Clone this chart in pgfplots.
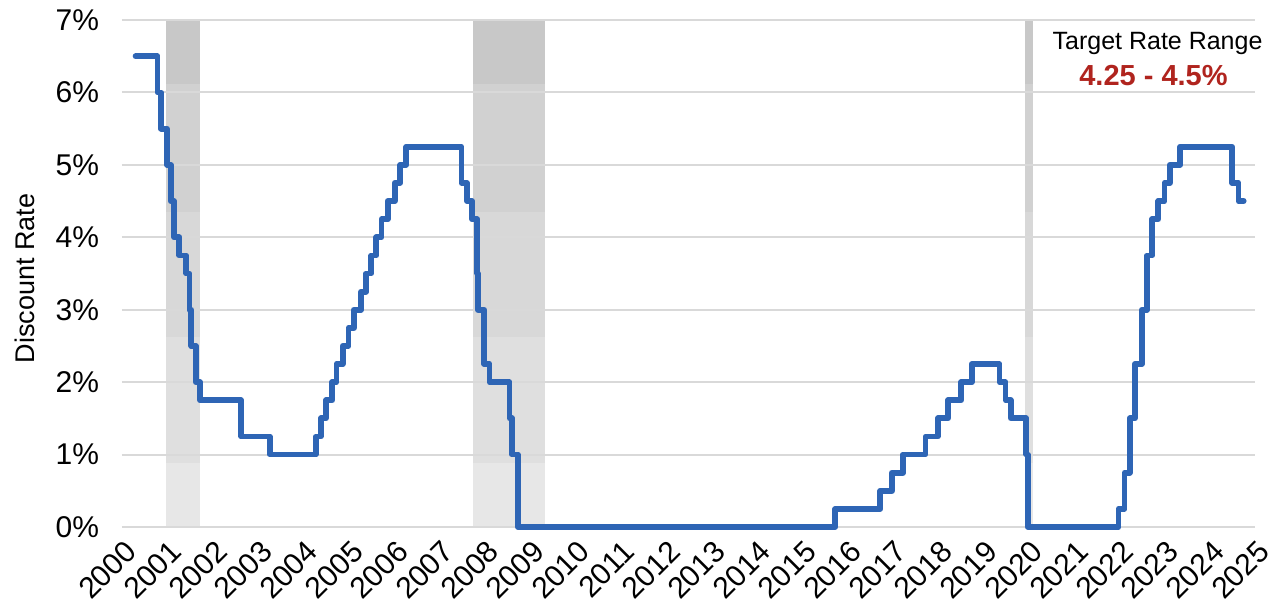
\documentclass[border=0pt]{standalone}
\usepackage{fontspec}
\setmainfont{Liberation Sans}
\usepackage{pgfplots}
\pgfplotsset{compat=1.18}
\definecolor{lineblue}{RGB}{46,101,181}
\definecolor{gridgray}{RGB}{217,217,217}
\definecolor{recA}{RGB}{200,200,200}
\definecolor{recB}{RGB}{209,209,209}
\definecolor{recC}{RGB}{216,216,216}
\definecolor{recD}{RGB}{223,223,223}
\definecolor{recE}{RGB}{231,231,231}
\definecolor{annred}{RGB}{176,36,30}

% recession band: start, end
\newcommand{\recess}[2]{%
  \addplot[on layer=axis background, draw=none, fill=recE] coordinates {(#1,0) (#1,7) (#2,7) (#2,0)} -- cycle;
  \addplot[on layer=axis background, draw=none, fill=recD] coordinates {(#1,0.88) (#1,7) (#2,7) (#2,0.88)} -- cycle;
  \addplot[on layer=axis background, draw=none, fill=recC] coordinates {(#1,2.63) (#1,7) (#2,7) (#2,2.63)} -- cycle;
  \addplot[on layer=axis background, draw=none, fill=recB] coordinates {(#1,4.35) (#1,7) (#2,7) (#2,4.35)} -- cycle;
  \addplot[on layer=axis background, draw=none, fill=recA] coordinates {(#1,6.12) (#1,7) (#2,7) (#2,6.12)} -- cycle;
}

\begin{document}
\begin{tikzpicture}
\begin{axis}[
  at={(0,0)}, anchor=south west,
  scale only axis, width=566.5pt, height=253.5pt,
  xmin=2000.22, xmax=2025.22, ymin=0, ymax=7,
  clip=false, set layers,
  axis line style={draw=none}, major tick length=0pt,
  ymajorgrids, grid style={gridgray, line width=1pt},
  ytick={0,1,2,3,4,5,6,7},
  yticklabels={0\%,1\%,2\%,3\%,4\%,5\%,6\%,7\%},
  yticklabel style={font=\fontsize{15}{18}\selectfont, xshift=-8pt},
  xtick={2000.22,2001.22,2002.22,2003.22,2004.22,2005.22,2006.22,2007.22,2008.22,2009.22,2010.22,2011.22,2012.22,2013.22,2014.22,2015.22,2016.22,2017.22,2018.22,2019.22,2020.22,2021.22,2022.22,2023.22,2024.22,2025.22},
  xticklabels={2000,2001,2002,2003,2004,2005,2006,2007,2008,2009,2010,2011,2012,2013,2014,2015,2016,2017,2018,2019,2020,2021,2022,2023,2024,2025},
  xticklabel style={font=\fontsize{15}{18}\selectfont, rotate=45, anchor=east, inner sep=0.5pt, xshift=-3pt, yshift=-10pt},
  ylabel={Discount Rate},
  ylabel style={at={(axis description cs:-0.0856,0.49)}, anchor=center, font=\fontsize{13.5}{16}\selectfont},
]
\recess{2001.20}{2001.95}
\recess{2007.97}{2009.56}
\recess{2020.15}{2020.33}

\addplot[const plot, lineblue, line width=2.9pt, line cap=round, line join=round] coordinates {
(2000.52,6.5) (2001.005,6.0) (2001.082,5.5) (2001.214,5.0) (2001.293,4.5) (2001.367,4.0)
(2001.485,3.75) (2001.636,3.5) (2001.710,3.0) (2001.751,2.5) (2001.847,2.0) (2001.942,1.75)
(2002.847,1.25) (2003.482,1.0) (2004.496,1.25) (2004.608,1.5) (2004.722,1.75) (2004.859,2.0)
(2004.953,2.25) (2005.088,2.5) (2005.219,2.75) (2005.334,3.0) (2005.496,3.25) (2005.605,3.5)
(2005.719,3.75) (2005.833,4.0) (2005.948,4.25) (2006.082,4.5) (2006.236,4.75) (2006.356,5.0)
(2006.492,5.25) (2007.712,4.75) (2007.830,4.5) (2007.942,4.25) (2008.057,3.5) (2008.079,3.0)
(2008.211,2.25) (2008.329,2.0) (2008.770,1.5) (2008.827,1.0) (2008.956,0)
(2015.959,0.25) (2016.953,0.5) (2017.205,0.75) (2017.452,1.0) (2017.951,1.25) (2018.222,1.5)
(2018.449,1.75) (2018.737,2.0) (2018.970,2.25) (2019.581,2.0) (2019.715,1.75) (2019.830,1.5)
(2020.170,1.0) (2020.205,0) (2022.208,0.25) (2022.340,0.75) (2022.456,1.5) (2022.570,2.25)
(2022.723,3.0) (2022.838,3.75) (2022.953,4.25) (2023.088,4.5) (2023.222,4.75) (2023.337,5.0)
(2023.567,5.25) (2024.715,4.75) (2024.855,4.5) (2024.97,4.5)
};

\node[font=\fontsize{12.5}{15}\selectfont, anchor=center] at (axis cs:2023.07,6.68) {Target Rate Range};
\node[font=\bfseries\fontsize{14.5}{17}\selectfont, text=annred, anchor=center] at (axis cs:2022.98,6.24) {4.25 - 4.5\%};
\end{axis}
\pgfresetboundingbox
\path[use as bounding box] (-61pt,-42.5pt) rectangle (576pt,263.5pt);
\end{tikzpicture}
\end{document}
